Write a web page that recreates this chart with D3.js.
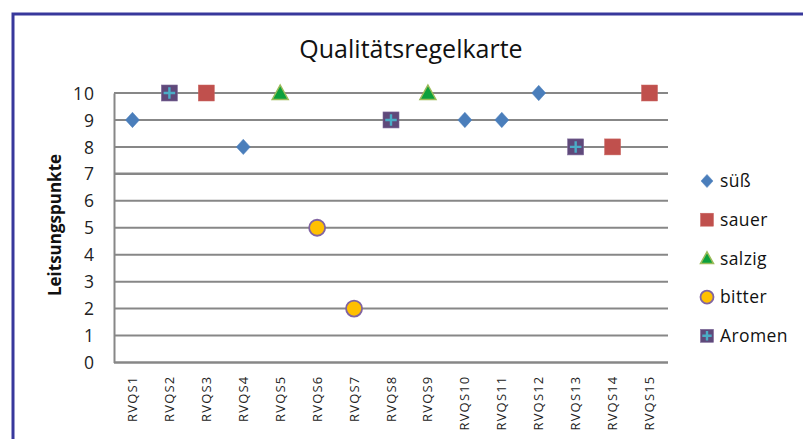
<!DOCTYPE html>
<html>
<head>
<meta charset="utf-8">
<script src="https://cdn.jsdelivr.net/npm/d3@7"></script>
<style>
  body { margin: 0; background: #fff; }
  svg { display: block; font-family: "Open Sans", sans-serif; }
</style>
</head>
<body>
<svg id="chart" width="803" height="439"></svg>
<script>
// categories and values per series (null = no point)
let categories = ["RVQS1", "RVQS2", "RVQS3", "RVQS4", "RVQS5", "RVQS6", "RVQS7", "RVQS8",
  "RVQS9", "RVQS10", "RVQS11", "RVQS12", "RVQS13", "RVQS14", "RVQS15"];
let suess  = [9, null, null, 8, null, null, null, null, null, 9, 9, 10, null, null, null];
let sauer  = [null, null, 10, null, null, null, null, null, null, null, null, null, null, 8, 10];
let salzig = [null, null, null, null, 10, null, null, null, 10, null, null, null, null, null, null];
let bitter = [null, null, null, null, null, 5, 2, null, null, null, null, null, null, null, null];
let aromen = [null, 10, null, null, null, null, null, 9, null, null, null, null, 8, null, null];
let yTicks = [0, 1, 2, 3, 4, 5, 6, 7, 8, 9, 10];

let series = [
  { name: "süß", values: suess, type: "diamond" },
  { name: "sauer", values: sauer, type: "square" },
  { name: "salzig", values: salzig, type: "triangle" },
  { name: "bitter", values: bitter, type: "circle" },
  { name: "Aromen", values: aromen, type: "plus" }
];

let svg = d3.select("#chart");

// outer frame (runs off the right and bottom edge)
svg.append("rect")
  .attr("x", 13).attr("y", 14)
  .attr("width", 820).attr("height", 460)
  .attr("fill", "none")
  .attr("stroke", "#38389c")
  .attr("stroke-width", 3);

let plotLeft = 114, plotRight = 668, plotTop = 93, plotBottom = 362.5;

let xScale = d3.scaleBand()
  .domain(categories)
  .range([plotLeft, plotRight]);

let yScale = d3.scaleLinear()
  .domain([0, 10])
  .range([plotBottom, plotTop]);

// gridlines
svg.append("g")
  .selectAll("line")
  .data(yTicks)
  .enter()
  .append("line")
  .attr("x1", plotLeft).attr("x2", plotRight)
  .attr("y1", d => yScale(d)).attr("y2", d => yScale(d))
  .attr("stroke", "#878787")
  .attr("stroke-width", d => d == 7 || d == 0 ? 2.5 : 2);

// y axis
let yAxis = d3.axisLeft(yScale).tickValues(yTicks).tickSize(0).tickPadding(19);
let gy = svg.append("g")
  .attr("transform", "translate(" + plotLeft + ",0)")
  .call(yAxis);
gy.select(".domain").attr("stroke", "#878787").attr("stroke-width", 2);
gy.selectAll("text")
  .style("font-family", "'Open Sans', sans-serif")
  .style("font-size", "17.5px")
  .style("letter-spacing", "1px")
  .attr("fill", "#222")
  .attr("dy", "0.35em");

// x axis labels rotated
let xAxis = d3.axisBottom(xScale).tickSize(0).tickPadding(0);
let gx = svg.append("g")
  .attr("transform", "translate(0," + plotBottom + ")")
  .call(xAxis);
gx.select(".domain").remove();
gx.selectAll("text")
  .attr("transform", "rotate(-90)")
  .attr("x", -13)
  .attr("y", 0)
  .attr("dy", "0.35em")
  .style("text-anchor", "end")
  .style("font-family", "'Open Sans', sans-serif")
  .style("font-size", "13px")
  .style("letter-spacing", "1.2px")
  .attr("fill", "#222");

// title
svg.append("text")
  .attr("x", 411).attr("y", 58)
  .style("text-anchor", "middle")
  .style("font-size", "25px")
  .attr("fill", "#111")
  .text("Qualitätsregelkarte");

// y axis title
svg.append("text")
  .attr("transform", "rotate(-90)")
  .attr("x", -225).attr("y", 61)
  .style("text-anchor", "middle")
  .style("font-size", "17px")
  .style("font-weight", "bold")
  .attr("fill", "#111")
  .text("Leitsungspunkte");

function drawMarker(g, type, size) {
  let s = size;
  if (type == "diamond") {
    g.append("path")
      .attr("d", "M0," + (-s * 0.55) + "L" + (s * 0.5) + ",0L0," + (s * 0.55) + "L" + (-s * 0.5) + ",0Z")
      .attr("fill", "#4a7ebb").attr("stroke", "#4f81bd").attr("stroke-width", 0.5);
  } else if (type == "square") {
    g.append("rect")
      .attr("x", -s / 2).attr("y", -s / 2).attr("width", s).attr("height", s)
      .attr("fill", "#c0504d").attr("stroke", "#c96560").attr("stroke-width", 0.5);
  } else if (type == "triangle") {
    g.append("path")
      .attr("d", "M0," + (-s * 0.5) + "L" + (s * 0.5) + "," + (s * 0.4) + "L" + (-s * 0.5) + "," + (s * 0.4) + "Z")
      .attr("fill", "#0ca03c").attr("stroke", "#9bbb59").attr("stroke-width", 1.5);
  } else if (type == "circle") {
    g.append("circle")
      .attr("r", s / 2)
      .attr("fill", "#ffc000").attr("stroke", "#8064a2").attr("stroke-width", 1.8);
  } else if (type == "plus") {
    g.append("rect")
      .attr("x", -s / 2).attr("y", -s / 2).attr("width", s).attr("height", s)
      .attr("fill", "#5f497a").attr("stroke", "#7e6a9a").attr("stroke-width", 0.6);
    g.append("path")
      .attr("d", "M" + (-s * 0.36) + ",0H" + (s * 0.36) + "M0," + (-s * 0.36) + "V" + (s * 0.36))
      .attr("stroke", "#4bacc6").attr("stroke-width", 2.4);
  }
}

// points
series.forEach(function (ser) {
  ser.values.forEach(function (v, i) {
    if (v == null) return;
    let g = svg.append("g")
      .attr("transform", "translate(" + (xScale(categories[i]) + xScale.bandwidth() / 2) + "," + yScale(v) + ")");
    drawMarker(g, ser.type, ser.type == "diamond" ? 14 : 16);
  });
});

// legend
let legend = svg.append("g");
series.forEach(function (ser, i) {
  let y = 181 + i * 38.7;
  let g = legend.append("g").attr("transform", "translate(707," + y + ")");
  drawMarker(g, ser.type, ser.type == "diamond" ? 12 : 13);
  legend.append("text")
    .attr("x", 720).attr("y", y)
    .attr("dy", "0.35em")
    .style("font-size", "17.5px")
    .style("letter-spacing", "0.4px")
    .attr("fill", "#111")
    .text(ser.name);
});
</script>
</body>
</html>
